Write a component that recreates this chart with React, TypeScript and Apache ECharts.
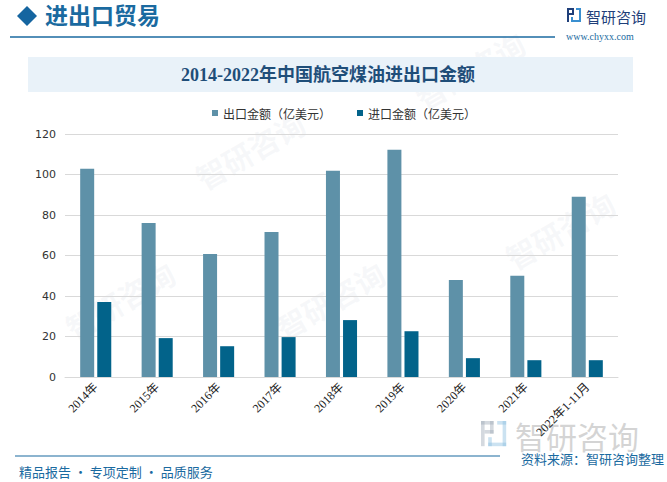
import React, { useEffect, useRef } from "react";
import * as echarts from "echarts";

const categories = ["2014年", "2015年", "2016年", "2017年", "2018年", "2019年", "2020年", "2021年", "2022年1-11月"];
const exportValues = [102.8, 76.1, 60.7, 71.6, 101.8, 112.2, 47.9, 50.0, 89.0];
const importValues = [37.0, 19.2, 15.2, 19.7, 28.1, 22.6, 9.3, 8.3, 8.3];
const seriesNames = ["出口金额（亿美元）", "进口金额（亿美元）"];
const titleText = "2014-2022年中国航空煤油进出口金额";
const headerText = "进出口贸易";
const footerLeft = "精品报告 · 专项定制 · 品质服务";
const footerRight = "资料来源：智研咨询整理";

const BLUE = "#1a6aa0";
const CJK = "'Noto Sans CJK SC', sans-serif";
const SERIF = "'Liberation Serif', 'DejaVu Serif', 'Noto Sans CJK SC', serif";

function logoIcon(x: number, y: number, s: number, dark: string, light: string) {
  return {
    type: "group",
    x,
    y,
    silent: true,
    children: [
      { type: "rect", shape: { x: 0, y: 0, width: 7 * s, height: 2 * s }, style: { fill: dark } },
      { type: "rect", shape: { x: 0, y: 0, width: 2 * s, height: 14 * s }, style: { fill: dark } },
      { type: "rect", shape: { x: 5 * s, y: 0, width: 2 * s, height: 7 * s }, style: { fill: dark } },
      { type: "rect", shape: { x: 2 * s, y: 5 * s, width: 5 * s, height: 2 * s }, style: { fill: dark } },
      { type: "rect", shape: { x: 9 * s, y: 0, width: 5 * s, height: 2 * s }, style: { fill: light } },
      { type: "rect", shape: { x: 12 * s, y: 0, width: 2 * s, height: 14 * s }, style: { fill: light } },
      { type: "rect", shape: { x: 4 * s, y: 12 * s, width: 10 * s, height: 2 * s }, style: { fill: light } },
      { type: "rect", shape: { x: 4 * s, y: 9 * s, width: 2 * s, height: 5 * s }, style: { fill: light } },
    ],
  };
}

function watermark(x: number, y: number) {
  return {
    type: "text",
    x,
    y,
    rotation: Math.PI / 6,
    silent: true,
    z: -1,
    style: {
      text: "智研咨询",
      fill: "rgba(200,210,220,0.16)",
      font: `bold 30px ${CJK}`,
      align: "center",
      verticalAlign: "middle",
    },
  };
}

export default function App() {
  const ref = useRef<HTMLDivElement>(null);

  useEffect(() => {
    document.body.style.margin = "0";
    if (!ref.current) return;
    const chart = echarts.init(ref.current, undefined, { renderer: "svg" });
    chart.setOption({
      animation: false,
      backgroundColor: "#ffffff",
      color: ["#5e91a8", "#02638a"],
      legend: {
        data: seriesNames,
        top: 102,
        left: 207,
        itemWidth: 6,
        itemHeight: 6,
        itemGap: 26,
        icon: "rect",
        textStyle: { fontSize: 12, color: "#333", fontFamily: CJK },
      },
      grid: { left: 65, right: 49, top: 134, bottom: 105, containLabel: false },
      xAxis: {
        type: "category",
        data: categories,
        axisLine: { lineStyle: { color: "#d9d9d9" } },
        axisTick: { show: false },
        axisLabel: {
          rotate: 45,
          interval: 0,
          fontSize: 12,
          color: "#222",
          fontFamily: SERIF,
          margin: 8,
        },
      },
      yAxis: {
        type: "value",
        min: 0,
        max: 120,
        interval: 20,
        axisLine: { show: false },
        axisTick: { show: false },
        splitLine: { lineStyle: { color: "#d9d9d9" } },
        axisLabel: { fontSize: 11, color: "#333", margin: 9, fontFamily: "'DejaVu Sans', sans-serif" },
      },
      series: [
        { name: seriesNames[0], type: "bar", data: exportValues, barWidth: 14, barGap: "22%" },
        { name: seriesNames[1], type: "bar", data: importValues, barWidth: 14, barGap: "22%" },
      ],
      graphic: [
        watermark(250, 150),
        watermark(470, 70),
        watermark(120, 300),
        watermark(330, 300),
        watermark(560, 230),
        // header
        {
          type: "polygon",
          shape: { points: [[27, 6], [37, 16], [27, 26], [17, 16]] },
          style: { fill: "#1565a0" },
        },
        {
          type: "text",
          x: 45,
          y: 16,
          style: { text: headerText, fill: BLUE, font: `bold 23px ${SERIF}`, verticalAlign: "middle" },
        },
        {
          type: "line",
          shape: { x1: 10, y1: 37, x2: 555, y2: 37 },
          style: { stroke: BLUE, lineWidth: 1.5 },
        },
        logoIcon(567, 8, 1, "#1f3f7a", "#3a8fd0"),
        {
          type: "text",
          x: 586,
          y: 16,
          style: { text: "智研咨询", fill: "#1f3f7a", font: `15px ${CJK}`, verticalAlign: "middle" },
        },
        {
          type: "text",
          x: 566,
          y: 36,
          style: { text: "www.chyxx.com", fill: BLUE, font: `10px ${SERIF}`, verticalAlign: "middle" },
        },
        // title band
        {
          type: "rect",
          shape: { x: 28, y: 57, width: 605, height: 35 },
          style: { fill: "#e9f2f9" },
        },
        {
          type: "text",
          x: 328,
          y: 75,
          style: {
            text: titleText,
            fill: "#1f4e79",
            font: `bold 18px ${SERIF}`,
            align: "center",
            verticalAlign: "middle",
          },
        },
        // bottom-right watermark logo
        logoIcon(481, 421, 1.8, "rgba(160,170,185,0.45)", "rgba(140,190,225,0.45)"),
        {
          type: "text",
          x: 515,
          y: 435,
          z: -1,
          style: { text: "智研咨询", fill: "rgba(170,170,170,0.5)", font: `31px ${CJK}`, verticalAlign: "middle" },
        },
        // footer
        {
          type: "line",
          shape: { x1: 15, y1: 456, x2: 500, y2: 456 },
          style: { stroke: BLUE, lineWidth: 1.2 },
        },
        {
          type: "text",
          x: 19,
          y: 471,
          style: { text: footerLeft, fill: BLUE, font: `13px ${CJK}`, verticalAlign: "middle" },
        },
        {
          type: "text",
          x: 664,
          y: 458,
          style: { text: footerRight, fill: BLUE, font: `13px ${CJK}`, align: "right", verticalAlign: "middle" },
        },
      ],
    });
    return () => chart.dispose();
  }, []);

  return <div ref={ref} style={{ width: 667, height: 482, position: "absolute", left: 0, top: 0 }} />;
}
